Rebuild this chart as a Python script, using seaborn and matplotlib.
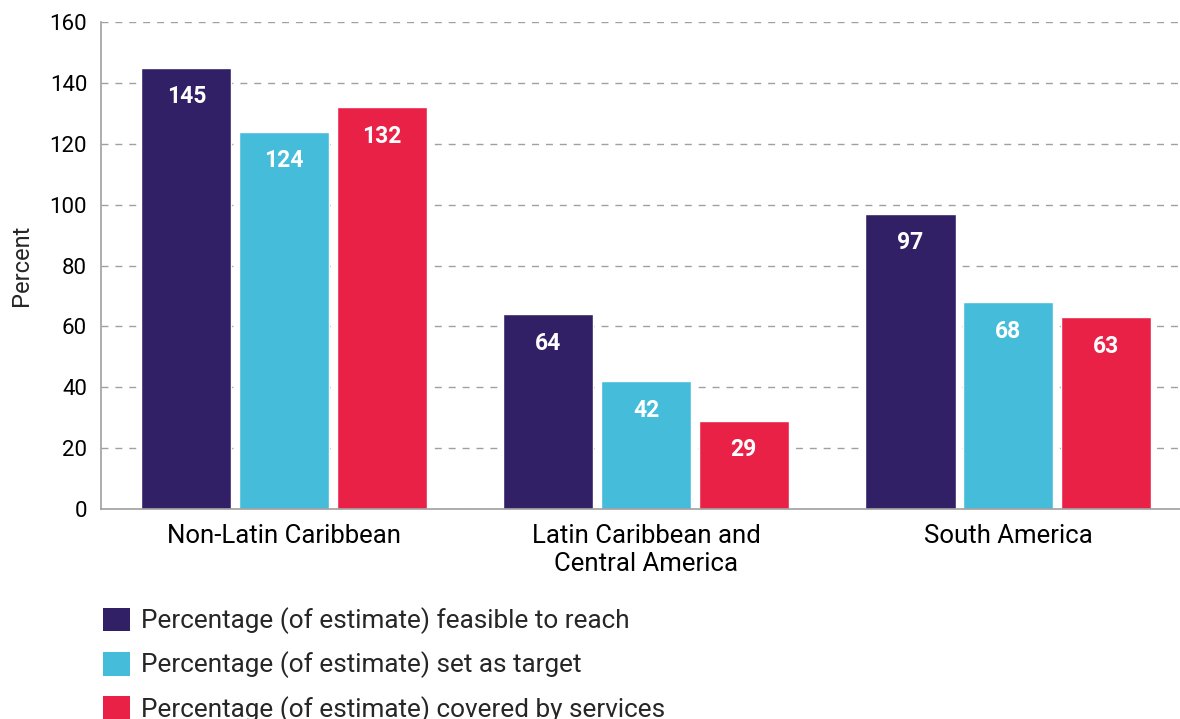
import pandas as pd
import seaborn as sns
import matplotlib.pyplot as plt
from matplotlib.patches import Patch

# data
regions = ["Non-Latin Caribbean", "Latin Caribbean and\nCentral America", "South America"]
series = ["Percentage (of estimate) feasible to reach",
          "Percentage (of estimate) set as target",
          "Percentage (of estimate) covered by services"]
feasible = [145, 64, 97]
target = [124, 42, 68]
covered = [132, 29, 63]
colors = ["#312065", "#45BCDA", "#EA2147"]

df = pd.DataFrame({
    "region": regions * 3,
    "series": [series[0]] * 3 + [series[1]] * 3 + [series[2]] * 3,
    "value": feasible + target + covered,
})

sns.set_theme(style="white")
plt.rcParams['font.family'] = ["Roboto", "DejaVu Sans"]

fig = plt.figure(figsize=(11.8, 7.19), dpi=100)
ax = fig.add_axes([0.0856, 0.292, 0.9144, 0.6774])

sns.barplot(data=df, x="region", y="value", hue="series", hue_order=series,
            palette=colors, width=0.81, gap=0.075, saturation=1, legend=False, ax=ax)

# value labels inside bars
for cont in ax.containers:
    for bar in cont:
        h = bar.get_height()
        ax.annotate(f"{h:.0f}", (bar.get_x() + bar.get_width() / 2, h),
                    xytext=(0, -29), textcoords="offset pixels",
                    ha="center", va="center", color="white", fontsize=16.5, fontweight="bold")

ax.set_ylim(0, 160)
ax.set_xlim(-0.5055, 2.475)
ax.set_yticks(range(0, 161, 20))
ax.yaxis.grid(True, linestyle=(0, (5, 5)), color="#a0a0a0", linewidth=1)
ax.set_axisbelow(True)
for s in ["top", "right"]:
    ax.spines[s].set_visible(False)
for s in ["left", "bottom"]:
    ax.spines[s].set_color("#a0a0a0")
    ax.spines[s].set_linewidth(1.2)
ax.tick_params(axis="y", length=0, labelsize=16, colors="black", pad=10)
ax.tick_params(axis="x", length=0, labelsize=18.5, colors="black", pad=11)
ax.set_xlabel("")
ax.set_ylabel("Percent", fontsize=17)
ax.yaxis.set_label_coords(-0.063, 0.5)

handles = [Patch(facecolor=c, edgecolor="none") for c in colors]
fig.legend(handles, series, loc="upper left", bbox_to_anchor=(0.087, 0.155),
           frameon=False, fontsize=18.8, handlelength=1.03, handleheight=1.03,
           labelspacing=0.66, handletextpad=0.45, borderaxespad=0, borderpad=0)

fig.savefig("out.png", dpi=100)
